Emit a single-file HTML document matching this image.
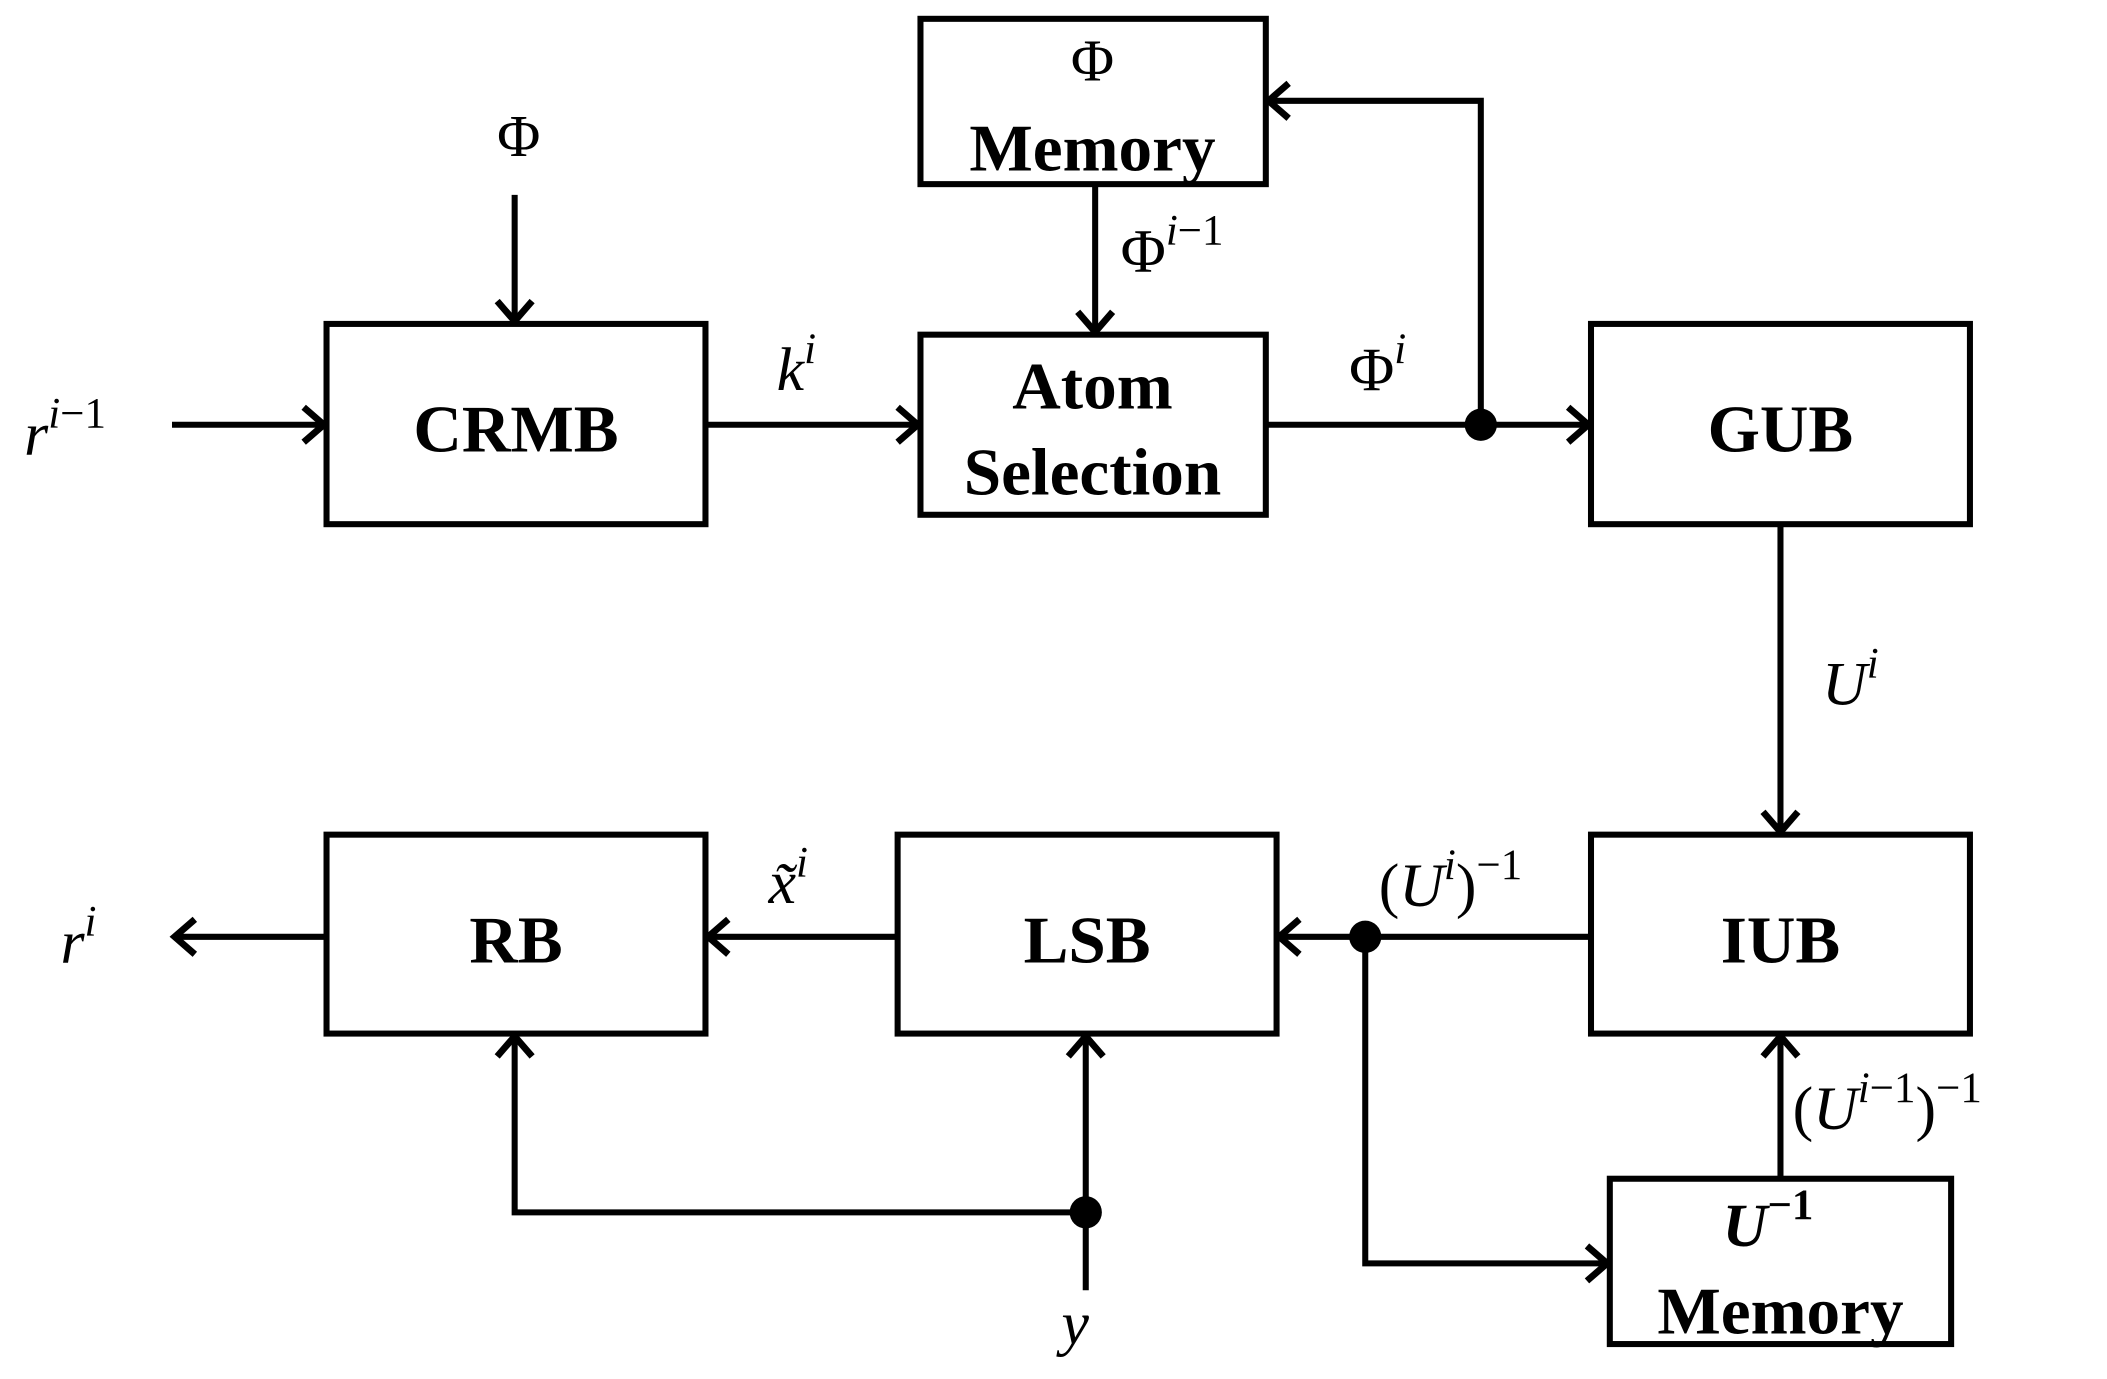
<!DOCTYPE html>
<html><head><style>html,body{margin:0;padding:0;background:#fff}svg{display:block}</style></head><body>
<svg width="2107" height="1379" viewBox="0 0 1568 1026" preserveAspectRatio="none" xmlns="http://www.w3.org/2000/svg">
<g fill="none" stroke="#000" stroke-width="4.5">
<rect x="685" y="14" width="257" height="123"/>
<rect x="243" y="241" width="282" height="149"/>
<rect x="685" y="249" width="257" height="134"/>
<rect x="1184" y="241" width="282" height="149"/>
<rect x="243" y="621" width="282" height="148"/>
<rect x="668" y="621" width="282" height="148"/>
<rect x="1184" y="621" width="282" height="148"/>
<rect x="1198" y="877" width="254" height="123"/>
<path d="M128 316H240M525 316H682M942 316H1181M1102 316V75H945M815 137V246M383 145V238M1325 390V618M1184 697H953M1016 697V940H1195M1325 877V772M668 697H528M243 697H131M808 960V772M808 902H383V772"/>
<g stroke-width="5" stroke-linejoin="miter">
<path d="M226 303L241 316L226 329"/>
<path d="M668 303L683 316L668 329"/>
<path d="M1167 303L1182 316L1167 329"/>
<path d="M959 62L944 75L959 88"/>
<path d="M802 232L815 247L828 232"/>
<path d="M370 224L383 239L396 224"/>
<path d="M1312 604L1325 619L1338 604"/>
<path d="M967 684L952 697L967 710"/>
<path d="M1181 927L1196 940L1181 953"/>
<path d="M1312 786L1325 771L1338 786"/>
<path d="M542 684L527 697L542 710"/>
<path d="M145 684L130 697L145 710"/>
<path d="M795 786L808 771L821 786"/>
<path d="M370 786L383 771L396 786"/>
</g>
</g>
<circle cx="1102" cy="316" r="12"/><circle cx="1016" cy="697" r="12"/><circle cx="808" cy="902" r="12"/>
<g font-family="Liberation Serif, serif" font-weight="bold" font-size="50" text-anchor="middle">
<text x="384" y="336">CRMB</text>
<text x="813" y="304">Atom</text>
<text x="813" y="368">Selection</text>
<text x="1325" y="336">GUB</text>
<text x="384" y="716">RB</text>
<text x="809" y="716">LSB</text>
<text x="1325" y="716">IUB</text>
<text x="813" y="127">Memory</text>
<text x="1325" y="992">Memory</text>
</g>
<g font-family="Liberation Serif, serif" font-size="44" text-anchor="middle">
<text x="813" y="60">Φ</text>
<text x="386" y="116">Φ</text>
</g>
<g font-family="Liberation Serif, serif" font-style="italic" font-size="46">
<text x="18" y="338">r<tspan font-size="32" dy="-20">i<tspan font-style="normal">−1</tspan></tspan></text>
<text x="578" y="290">k<tspan font-size="32" dy="-20">i</tspan></text>
<text x="834" y="202"><tspan font-style="normal">Φ</tspan><tspan font-size="32" dy="-20">i<tspan font-style="normal">−1</tspan></tspan></text>
<text x="1004" y="290"><tspan font-style="normal">Φ</tspan><tspan font-size="32" dy="-20">i</tspan></text>
<text x="1356" y="524">U<tspan font-size="32" dy="-20">i</tspan></text>
<text x="1026" y="674"><tspan font-style="normal">(</tspan>U<tspan font-size="32" dy="-20">i</tspan><tspan font-style="normal" dy="20">)</tspan><tspan font-style="normal" font-size="32" dy="-20">−1</tspan></text>
<text x="1334" y="840"><tspan font-style="normal">(</tspan>U<tspan font-size="32" dy="-20">i<tspan font-style="normal">−1</tspan></tspan><tspan font-style="normal" dy="20">)</tspan><tspan font-style="normal" font-size="32" dy="-20">−1</tspan></text>
<text x="1282" y="927" font-weight="bold">U<tspan font-style="normal" font-size="32" dy="-20">−1</tspan></text>
<text x="572" y="672">x̃<tspan font-size="32" dy="-20">i</tspan></text>
<text x="45" y="716">r<tspan font-size="32" dy="-20">i</tspan></text>
<text x="790" y="1000">y</text>
</g>
</svg>
</body></html>
